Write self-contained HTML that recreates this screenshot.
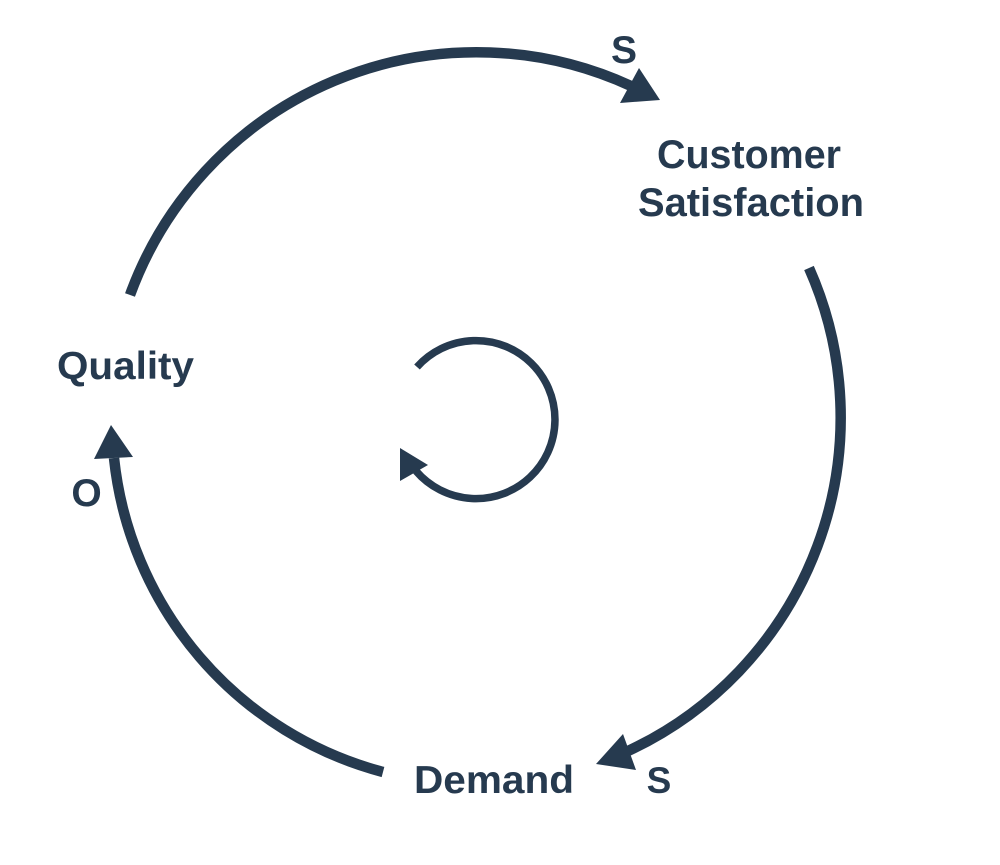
<!DOCTYPE html>
<html>
<head>
<meta charset="utf-8">
<style>
  html, body { margin: 0; padding: 0; background: #ffffff; }
  svg { display: block; }
  text { font-family: "Liberation Sans", sans-serif; font-weight: bold; fill: #263a4f; }
</style>
</head>
<body>
<svg width="1000" height="865" viewBox="0 0 1000 865" xmlns="http://www.w3.org/2000/svg">
  <g fill="none" stroke="#263a4f" stroke-width="10.5">
    <!-- top arc: Quality -> Customer Satisfaction -->
    <path d="M130,295 A369,369 0 0 1 631,86"/>
    <!-- right arc: Customer Satisfaction -> Demand -->
    <path d="M809,268 A368,368 0 0 1 628,751"/>
    <!-- left arc: Demand -> Quality -->
    <path d="M383,772 A364,364 0 0 1 114,458"/>
  </g>
  <g fill="#263a4f">
    <polygon points="660,100 639,68 620,103"/>
    <polygon points="596,764 623,734 636,770"/>
    <polygon points="111,425 94,459 133,457"/>
  </g>
  <!-- small loop -->
  <path d="M417,367 A79,79 0 1 1 416,471" fill="none" stroke="#263a4f" stroke-width="7.5"/>
  <polygon points="400,448 428,465 400,481" fill="#263a4f"/>

  <!-- labels -->
  <text x="624" y="63" font-size="39" text-anchor="middle">S</text>
  <text x="657" y="168" font-size="40" textLength="184" lengthAdjust="spacingAndGlyphs">Customer</text>
  <text x="638" y="216" font-size="40" textLength="226" lengthAdjust="spacingAndGlyphs">Satisfaction</text>
  <text x="57" y="379" font-size="39" textLength="137" lengthAdjust="spacingAndGlyphs">Quality</text>
  <text x="86.5" y="506" font-size="39" text-anchor="middle">O</text>
  <text x="414" y="793" font-size="39" textLength="160" lengthAdjust="spacingAndGlyphs">Demand</text>
  <text x="659" y="793" font-size="37" text-anchor="middle">S</text>
</svg>
</body>
</html>
